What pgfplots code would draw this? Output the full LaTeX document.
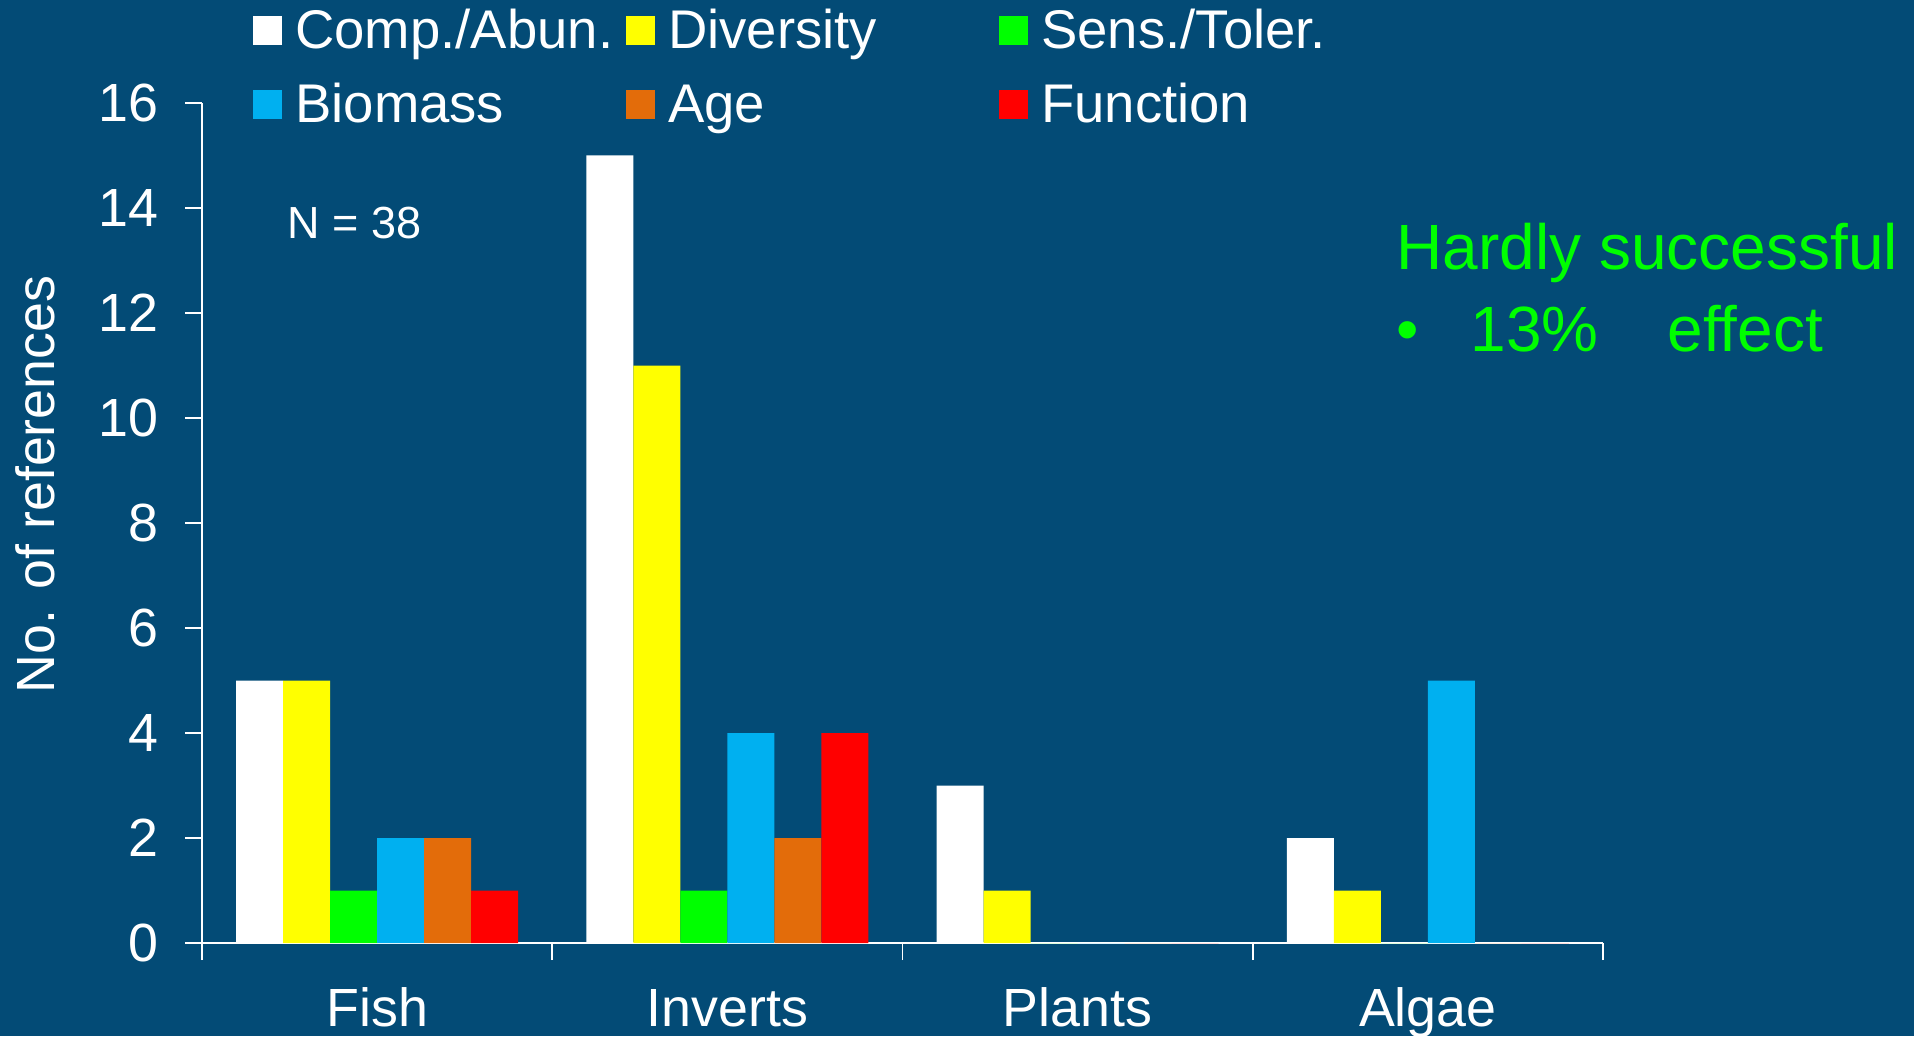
\documentclass[border=0pt]{standalone}
\usepackage{fontspec}
\setmainfont{Liberation Sans}
\usepackage{pgfplots}
\usepackage{pgfplotstable}
\pgfplotsset{compat=1.18}

\definecolor{bgblue}{RGB}{3,75,118}
\definecolor{cyanbar}{RGB}{0,176,240}
\definecolor{orangebar}{RGB}{227,108,10}
\definecolor{hardgreen}{RGB}{0,255,0}
\definecolor{yellowbar}{RGB}{255,255,0}

% x: 0=Fish 1=Inverts 2=Plants 3=Algae
\pgfplotstableread{
x comp div sens bio age func
0 5  5  1 2 2 1
1 15 11 1 4 2 4
2 3  1  0 0 0 0
3 2  1  0 5 0 0
}\refs

\newcommand{\lbl}{\fontsize{15.3pt}{18pt}\selectfont}
\newcommand{\leg}{\fontsize{15.5pt}{18pt}\selectfont}

\begin{document}
\begin{tikzpicture}
\fill[bgblue] (0,0) rectangle (19.14,10.36);
\begin{axis}[
  at={(2.02cm,0.93cm)}, anchor=south west,
  scale only axis, width=14.01cm, height=8.40cm,
  ybar=0pt, bar width=0.47cm,
  xmin=-0.5, xmax=3.5, ymin=0, ymax=16,
  axis lines*=left,
  axis line style={white, line width=0.5pt},
  every tick/.style={white, line width=0.5pt},
  tick align=outside,
  major tick length=0.17cm, minor tick length=0.17cm,
  xtick={0,1,2,3},
  xticklabels={Fish,Inverts,Plants,Algae},
  minor xtick={-0.5,0.5,1.5,2.5,3.5},
  major x tick style={draw=none},
  ytick={0,2,...,16},
  /pgf/number format/assume math mode=true,
  tick label style={font=\lbl, text=white},
  xticklabel style={anchor=base, yshift=-0.66cm},
  yticklabel style={inner xsep=0pt, xshift=-0.26cm},
  ylabel={No. of references},
  ylabel style={font=\lbl, text=white, at={(axis description cs:-0.105,0.546)}, anchor=base},
  legend columns=3,
  legend style={draw=none, fill=none, inner sep=0pt, outer sep=0pt,
    at={(axis description cs:0.0366,1.1202)}, anchor=north west,
    row sep=0.18cm, column sep=0pt,
    nodes={inner sep=0pt, text height=0.46cm, text depth=0.10cm, font=\leg, text=white},
    /tikz/every odd column/.append style={column sep=0.13cm}},
  legend cell align=left,
  legend image code/.code={\fill[#1] (0cm,-0.145cm) rectangle (0.29cm,0.145cm);},
]
\addplot[fill=white, draw=none] table[x=x, y=comp] {\refs};
\addlegendentry{\makebox[3.31cm][l]{Comp./Abun.}}
\addplot[fill=yellowbar, draw=none] table[x=x, y=div] {\refs};
\addlegendentry{\makebox[3.31cm][l]{Diversity}}
\addplot[fill=hardgreen, draw=none] table[x=x, y=sens] {\refs};
\addlegendentry{\makebox[3.31cm][l]{Sens./Toler.}}
\addplot[fill=cyanbar, draw=none] table[x=x, y=bio] {\refs};
\addlegendentry{\makebox[3.31cm][l]{Biomass}}
\addplot[fill=orangebar, draw=none] table[x=x, y=age] {\refs};
\addlegendentry{\makebox[3.31cm][l]{Age}}
\addplot[fill=red, draw=none] table[x=x, y=func] {\refs};
\addlegendentry{\makebox[3.31cm][l]{Function}}
\end{axis}
\node[anchor=base west, inner sep=0pt, text=white, font=\fontsize{12.8pt}{15pt}\selectfont] at (2.87,7.97) {N = 38};
\node[anchor=base west, inner sep=0pt, text=hardgreen, font=\fontsize{18.2pt}{22pt}\selectfont] at (13.96,7.66) {Hardly successful};
\node[anchor=base west, inner sep=0pt, text=hardgreen, font=\fontsize{18.2pt}{22pt}\selectfont] at (13.96,6.84) {•};
\node[anchor=base west, inner sep=0pt, text=hardgreen, font=\fontsize{18.2pt}{22pt}\selectfont] at (14.70,6.84) {13\%};
\node[anchor=base west, inner sep=0pt, text=hardgreen, font=\fontsize{18.2pt}{22pt}\selectfont] at (16.67,6.84) {effect};
\pgfresetboundingbox
\path[use as bounding box] (0,0) rectangle (19.14,10.36);
\end{tikzpicture}
\end{document}
